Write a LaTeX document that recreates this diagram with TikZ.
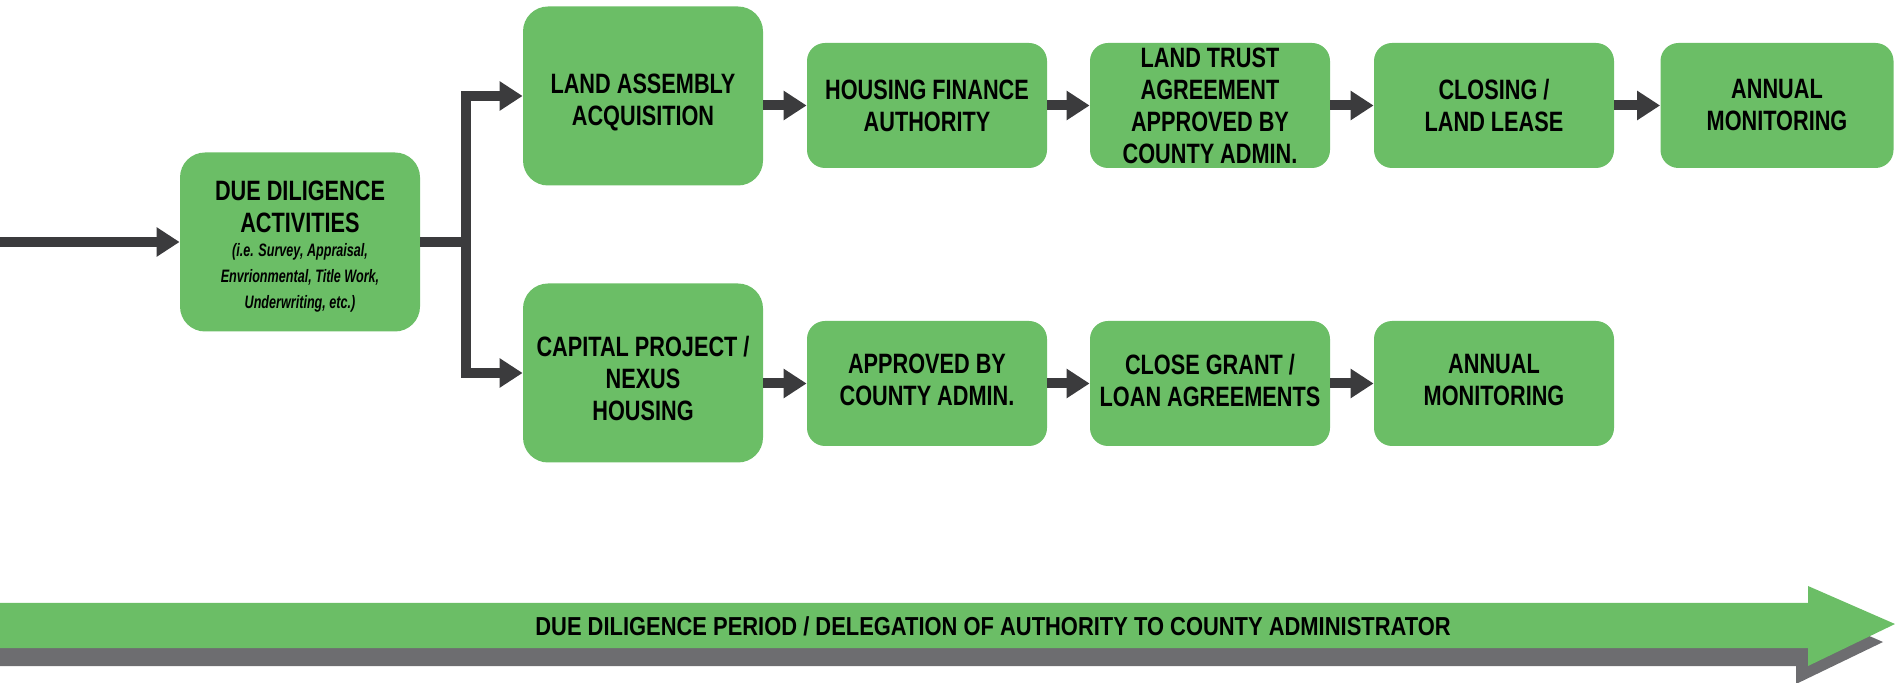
\documentclass[tikz,border=0pt]{standalone}
\usepackage{fontspec}
\usetikzlibrary{arrows.meta}
\newfontfamily\kastenfont[FakeStretch=0.775]{Liberation Sans}
\newfontfamily\kleinfont[FakeStretch=0.70]{Liberation Sans}
\newfontfamily\bandfont[FakeStretch=0.843]{Liberation Sans}
\definecolor{gruen}{HTML}{6BBE66}
\definecolor{grau}{HTML}{6D6D70}
\definecolor{dunkel}{HTML}{3B3B3D}

\begin{document}
\begin{tikzpicture}[x=0.5pt, y=-0.5pt,
    kasten/.style={rectangle, rounded corners=9pt, fill=gruen, align=center, inner sep=0pt,
        minimum width=120pt, minimum height=62.5pt, text=black,
        font=\kastenfont\bfseries\fontsize{14}{16}\selectfont},
    gross/.style={kasten, minimum height=89.5pt, rounded corners=12.5pt},
    pfeil/.style={-{Triangle[length=11.5pt,width=14pt]}, line width=5pt, dunkel},
]
\useasboundingbox (0,0) rectangle (1895,683);

\fill[grau] (0,621) -- (1796,621) -- (1796,604) -- (1883,642) -- (1796,684) -- (1796,666) -- (0,666) -- cycle;
\fill[gruen] (0,603) -- (1808,603) -- (1808,586) -- (1895,624) -- (1808,666) -- (1808,648) -- (0,648) -- cycle;
\node[font=\bandfont\bfseries\fontsize{13}{15}\selectfont] (band) at (993,626)
    {DUE DILIGENCE PERIOD / DELEGATION OF AUTHORITY TO COUNTY ADMINISTRATOR};

\node[gross] (dd) at (300,242) {\rule{0pt}{14.2pt}DUE DILIGENCE\\ACTIVITIES\\[-3.9pt]
    {\kleinfont\bfseries\itshape\fontsize{9}{13}\selectfont (i.e. Survey, Appraisal,}\\[-3pt]
    {\kleinfont\bfseries\itshape\fontsize{9}{13}\selectfont Envrionmental, Title Work,}\\[-3pt]
    {\kleinfont\bfseries\itshape\fontsize{9}{13}\selectfont Underwriting, etc.)}};

\node[gross] (la) at (643,96) {\rule{0pt}{16pt}LAND ASSEMBLY\\ACQUISITION};
\node[kasten] (hf) at (927,105.5) {HOUSING FINANCE\\AUTHORITY};
\node[kasten] (lt) at (1210,105.5) {LAND TRUST\\AGREEMENT\\APPROVED BY\\COUNTY ADMIN.};
\node[kasten] (cl) at (1494,105.5) {CLOSING /\\LAND LEASE};
\node[kasten, minimum width=116.5pt] (am1) at (1777,105.5) {ANNUAL\\MONITORING};

\node[gross] (cp) at (643,373) {\rule{0pt}{16pt}CAPITAL PROJECT /\\NEXUS\\HOUSING};
\node[kasten] (ap) at (927,383.5) {APPROVED BY\\COUNTY ADMIN.\rule[-3.6pt]{0pt}{3.6pt}};
\node[kasten] (cg) at (1210,383.5) {CLOSE GRANT /\\LOAN AGREEMENTS\rule[-3.6pt]{0pt}{3.6pt}};
\node[kasten] (am2) at (1494,383.5) {ANNUAL\\MONITORING\rule[-3.6pt]{0pt}{3.6pt}};

\coordinate (start) at (0,242);
\coordinate (gabel) at (466,242);

\draw[pfeil] (start) -- (dd.west);
\draw[line width=5pt, dunkel] (dd.east) -- (gabel);
\draw[pfeil] (gabel) |- (la.west);
\draw[pfeil] (gabel) |- (cp.west);

\draw[pfeil] (la.east |- hf.west) -- (hf.west);
\draw[pfeil] (hf) -- (lt);
\draw[pfeil] (lt) -- (cl);
\draw[pfeil] (cl) -- (am1);

\draw[pfeil] (cp.east |- ap.west) -- (ap.west);
\draw[pfeil] (ap) -- (cg);
\draw[pfeil] (cg) -- (am2);

\end{tikzpicture}
\end{document}
